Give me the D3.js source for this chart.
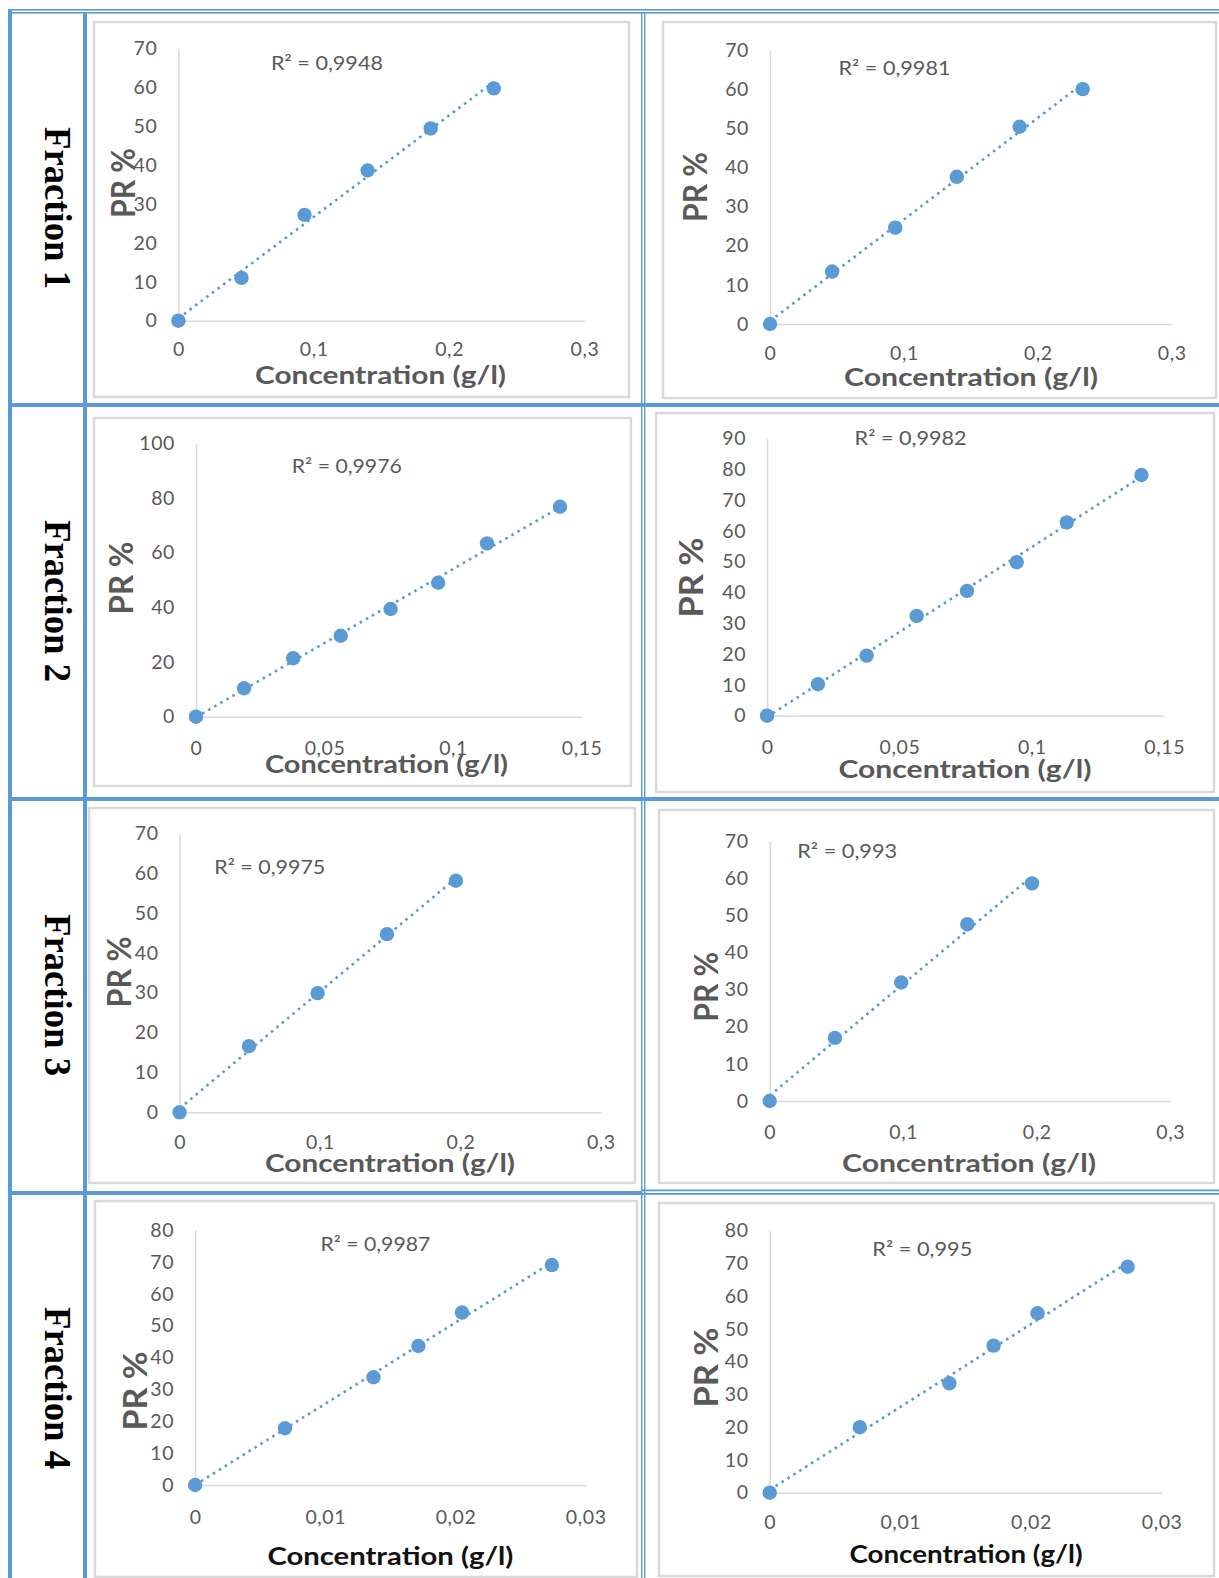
<!DOCTYPE html>
<html>
<head>
<meta charset="utf-8">
<script src="https://cdn.jsdelivr.net/npm/d3@7"></script>
<style>
  body { margin: 0; background: #fff; }
  svg { display: block; }
</style>
</head>
<body>
<div id="chart"></div>
<script>
// values
const fractions = ["Fraction 1", "Fraction 2", "Fraction 3", "Fraction 4"];

const frac1LeftConc = [0, 0.0466, 0.0932, 0.1398, 0.1864, 0.233];
const frac1LeftPR = [0, 11, 27.2, 38.6, 49.4, 59.7];
const frac1RightConc = [0, 0.0464, 0.0935, 0.1395, 0.1864, 0.2335];
const frac1RightPR = [0, 13.4, 24.6, 37.6, 50.4, 60];

const frac2LeftConc = [0, 0.0187, 0.0378, 0.0563, 0.0757, 0.0942, 0.1132, 0.1416];
const frac2LeftPR = [0, 10.4, 21.4, 29.6, 39.4, 49.0, 63.4, 76.8];
const frac2RightConc = [0, 0.0192, 0.0376, 0.0565, 0.0755, 0.0943, 0.1132, 0.1414];
const frac2RightPR = [0, 10.2, 19.5, 32.4, 40.5, 49.8, 62.7, 78.1];

const frac3LeftConc = [0, 0.0494, 0.0983, 0.1477, 0.1968];
const frac3LeftPR = [0, 16.6, 29.9, 44.7, 58.1];
const frac3RightConc = [0, 0.0489, 0.0985, 0.148, 0.1965];
const frac3RightPR = [0, 17.0, 31.9, 47.6, 58.6];

const frac4LeftConc = [0, 0.0069, 0.0137, 0.01715, 0.0205, 0.0274];
const frac4LeftPR = [0, 17.8, 33.8, 43.6, 54.1, 69.0];
const frac4RightConc = [0, 0.0069, 0.01375, 0.01714, 0.0205, 0.0274];
const frac4RightPR = [0, 20.0, 33.4, 44.9, 54.8, 69.0];

const r2Labels = ["R² = 0,9948", "R² = 0,9981", "R² = 0,9976", "R² = 0,9982",
                  "R² = 0,9975", "R² = 0,993", "R² = 0,9987", "R² = 0,995"];

const xTicks03 = [0, 0.1, 0.2, 0.3];
const xTicks015 = [0, 0.05, 0.1, 0.15];
const xTicks003 = [0, 0.01, 0.02, 0.03];
const yTicks70 = [0, 10, 20, 30, 40, 50, 60, 70];
const yTicks80 = [0, 10, 20, 30, 40, 50, 60, 70, 80];
const yTicks90 = [0, 10, 20, 30, 40, 50, 60, 70, 80, 90];
const yTicks100 = [0, 20, 40, 60, 80, 100];

const xTitle = "Concentration (g/l)";
const yTitle = "PR %";

// page layout (pixels)
const W = 1219, H = 1578;
const blue = "#5b9bd5", grey = "#d9d9d9", textGrey = "#595959";
const rowLabelY = [208, 601, 995, 1388];

const layout = [
  {frame: [94, 22, 629, 397], left: 178.4, right: 584.5, top: 48.3, bottom: 320.7, xPad: 21.5, r2: [271, 70], r2W: 112, xt: [380.5, 384, 251], yt: [135, 183, 70], xtColor: textGrey},
  {frame: [663, 22, 1216, 398], left: 770, right: 1171.7, top: 50, bottom: 324, xPad: 22, r2: [838.5, 75], r2W: 112, xt: [971, 386, 254], yt: [707, 187, 70], xtColor: textGrey},
  {frame: [94, 418, 631, 786], left: 196, right: 581.6, top: 443.3, bottom: 716.7, xPad: 24.5, r2: [291.8, 473], r2W: 110, xt: [386.5, 773, 243], yt: [133, 578, 73], xtColor: textGrey},
  {frame: [656, 413, 1214, 792], left: 767.1, right: 1164.2, top: 438.3, bottom: 715.7, xPad: 24, r2: [854.6, 445], r2W: 112, xt: [965, 778, 253], yt: [703, 577.5, 80], xtColor: textGrey},
  {frame: [89, 808, 635, 1183], left: 179.6, right: 600.8, top: 833.3, bottom: 1112.3, xPad: 23, r2: [214.3, 874.3], r2W: 111, xt: [390, 1171.7, 250], yt: [130.6, 972, 71], xtColor: textGrey},
  {frame: [659, 810, 1214, 1183], left: 769.7, right: 1170.2, top: 841, bottom: 1101, xPad: 24.5, r2: [797.2, 857.7], r2W: 100, xt: [969, 1171.7, 254], yt: [718, 986.7, 70], xtColor: textGrey},
  {frame: [95, 1201, 637, 1577], left: 195.1, right: 585.7, top: 1230, bottom: 1485, xPad: 25, r2: [320.4, 1250.7], r2W: 110, xt: [390.4, 1565, 246], yt: [147, 1391, 79], xtColor: "#111"},
  {frame: [659, 1203, 1214, 1576], left: 769.7, right: 1161.6, top: 1230.7, bottom: 1492.7, xPad: 22, r2: [872.3, 1256], r2W: 100, xt: [966, 1563.3, 233], yt: [718, 1367.5, 80], xtColor: "#111"}
];

const panels = [
  {conc: frac1LeftConc, pr: frac1LeftPR, xTicks: xTicks03, yTicks: yTicks70},
  {conc: frac1RightConc, pr: frac1RightPR, xTicks: xTicks03, yTicks: yTicks70},
  {conc: frac2LeftConc, pr: frac2LeftPR, xTicks: xTicks015, yTicks: yTicks100},
  {conc: frac2RightConc, pr: frac2RightPR, xTicks: xTicks015, yTicks: yTicks90},
  {conc: frac3LeftConc, pr: frac3LeftPR, xTicks: xTicks03, yTicks: yTicks70},
  {conc: frac3RightConc, pr: frac3RightPR, xTicks: xTicks03, yTicks: yTicks70},
  {conc: frac4LeftConc, pr: frac4LeftPR, xTicks: xTicks003, yTicks: yTicks80},
  {conc: frac4RightConc, pr: frac4RightPR, xTicks: xTicks003, yTicks: yTicks80}
].map((p, i) => ({...p, r2: r2Labels[i], L: layout[i]}));

const comma = d3.formatLocale({decimal: ",", thousands: "\u00a0", grouping: [3], currency: ["", " €"]});
const fmt = comma.format("~g");

const svg = d3.select("#chart").append("svg").attr("width", W).attr("height", H)
  .style("background", "#fff");

// chart panels first, table lines on top
panels.forEach(p => {
  const L = p.L;
  const g = svg.append("g");
  const [fx0, fy0, fx1, fy1] = L.frame;
  g.append("rect").attr("x", fx0).attr("y", fy0).attr("width", fx1 - fx0).attr("height", fy1 - fy0)
    .attr("fill", "#fff").attr("stroke", grey).attr("stroke-width", 2.5);

  const x = d3.scaleLinear().domain(d3.extent(p.xTicks)).range([L.left, L.right]);
  const y = d3.scaleLinear().domain(d3.extent(p.yTicks)).range([L.bottom, L.top]);

  const xAxis = g.append("g").attr("transform", `translate(0,${L.bottom})`)
    .call(d3.axisBottom(x).tickValues(p.xTicks).tickFormat(fmt).tickSize(0).tickPadding(L.xPad));
  const yAxis = g.append("g").attr("transform", `translate(${L.left},0)`)
    .call(d3.axisLeft(y).tickValues(p.yTicks).tickFormat(fmt).tickSize(0).tickPadding(21));
  [xAxis, yAxis].forEach(a => {
    a.attr("font-family", "Lato, 'Open Sans', sans-serif").attr("font-size", 19.5);
    a.select(".domain").attr("stroke", grey).attr("stroke-width", 1.5);
    a.selectAll("text").attr("fill", textGrey).style("letter-spacing", "0.6px");
  });

  // linear trendline (least squares) over the data range
  const n = p.conc.length;
  const mx = d3.mean(p.conc), my = d3.mean(p.pr);
  let sxy = 0, sxx = 0;
  for (let i = 0; i < n; i++) {
    sxy += (p.conc[i] - mx) * (p.pr[i] - my);
    sxx += (p.conc[i] - mx) ** 2;
  }
  const slope = sxy / sxx, icpt = my - slope * mx;
  const [c0, c1] = d3.extent(p.conc);
  g.append("line")
    .attr("x1", x(c0)).attr("y1", y(icpt + slope * c0))
    .attr("x2", x(c1)).attr("y2", y(icpt + slope * c1))
    .attr("stroke", blue).attr("stroke-width", 2.6).attr("stroke-dasharray", "2.6,4.4");

  g.selectAll("circle").data(d3.zip(p.conc, p.pr)).join("circle")
    .attr("cx", d => x(d[0])).attr("cy", d => y(d[1])).attr("r", 7.2).attr("fill", blue);

  g.append("text").attr("x", L.r2[0]).attr("y", L.r2[1])
    .attr("font-family", "Lato, sans-serif").attr("font-size", 19).attr("fill", textGrey)
    .attr("textLength", L.r2W).attr("lengthAdjust", "spacingAndGlyphs")
    .text(p.r2);

  g.append("text").attr("x", L.xt[0]).attr("y", L.xt[1]).attr("text-anchor", "middle")
    .attr("font-family", "Lato, sans-serif").attr("font-weight", "bold").attr("font-size", 25)
    .attr("fill", L.xtColor).attr("textLength", L.xt[2]).attr("lengthAdjust", "spacingAndGlyphs")
    .text(xTitle);

  g.append("text").attr("transform", `translate(${L.yt[0]},${L.yt[1]}) rotate(-90)`)
    .attr("text-anchor", "middle")
    .attr("font-family", "Lato, sans-serif").attr("font-weight", "bold").attr("font-size", 33)
    .attr("fill", textGrey).attr("textLength", L.yt[2]).attr("lengthAdjust", "spacingAndGlyphs")
    .text(yTitle);
});

// row labels
svg.selectAll("text.frac").data(fractions).join("text").attr("class", "frac")
  .attr("transform", (d, i) => `translate(45,${rowLabelY[i]}) rotate(90)`)
  .attr("text-anchor", "middle")
  .attr("font-family", "'Liberation Serif', 'Times New Roman', serif").attr("font-weight", "bold")
  .attr("font-size", 38).attr("fill", "#000")
  .attr("textLength", 162).attr("lengthAdjust", "spacingAndGlyphs")
  .text(d => d);

// table borders
const grid = svg.append("g").attr("fill", blue);
grid.append("rect").attr("x", 8).attr("y", 9).attr("width", W - 8).attr("height", 1.6);
grid.append("rect").attr("x", 8).attr("y", 12).attr("width", W - 8).attr("height", 1.6);
grid.append("rect").attr("x", 8).attr("y", 9).attr("width", 4).attr("height", H - 9);
grid.append("rect").attr("x", 83).attr("y", 12).attr("width", 4).attr("height", H - 12);
grid.append("rect").attr("x", 641).attr("y", 12).attr("width", 1.4).attr("height", H - 12);
grid.append("rect").attr("x", 644).attr("y", 12).attr("width", 1.4).attr("height", H - 12);
[403, 797].forEach(yy => {
  grid.append("rect").attr("x", 8).attr("y", yy).attr("width", W - 8).attr("height", 4);
});
grid.append("rect").attr("x", 8).attr("y", 1191).attr("width", 641 - 8).attr("height", 4);
grid.append("rect").attr("x", 641).attr("y", 1189.5).attr("width", W - 641).attr("height", 1.8);
grid.append("rect").attr("x", 641).attr("y", 1193).attr("width", W - 641).attr("height", 1.8);
</script>
</body>
</html>
